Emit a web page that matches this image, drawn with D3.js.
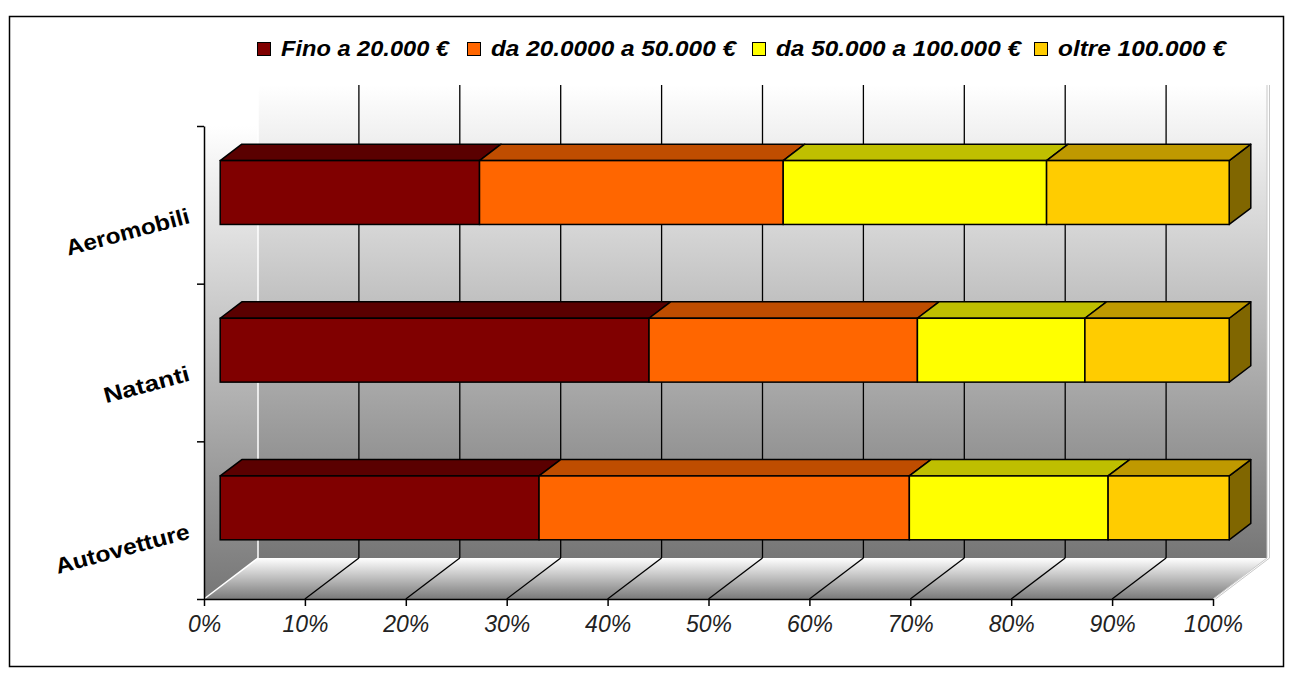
<!DOCTYPE html>
<html>
<head>
<meta charset="utf-8">
<script src="https://cdn.jsdelivr.net/npm/d3@7"></script>
<style>
  body { margin: 0; background: #fff; }
  svg { font-family: "Liberation Sans", Arial, sans-serif; }
</style>
</head>
<body>
<svg id="chart" width="1293" height="682"></svg>
<script>
// categorie dall'alto in basso
const categories = ['Aeromobili', 'Natanti', 'Autovetture']
const seriesNames = ['Fino a 20.000 €', 'da 20.0000 a 50.000 €', 'da 50.000 a 100.000 €', 'oltre 100.000 €']
const seriesColors = ['#800000', '#ff6600', '#ffff00', '#ffcc00']
// percentuali per categoria, una serie per array
const fino20 = [25.7, 42.5, 31.6]
const da20a50 = [30.1, 26.6, 36.7]
const da50a100 = [26.1, 16.6, 19.7]
const oltre100 = [18.1, 14.3, 12.0]
const tickValues = [0, 10, 20, 30, 40, 50, 60, 70, 80, 90, 100]

const series = [fino20, da20a50, da50a100, oltre100]

const svg = d3.select('#chart')

// piano frontale e profondità 3D
const plot = { left: 204, right: 1213, top: 126, bottom: 599 }
const depth = { dx: 54, dy: -41 }
const barZ0 = 0.3, barZ1 = 0.7
const barFrac = 0.405

const x = d3.scaleLinear().domain([0, 100]).range([plot.left, plot.right])
const y = d3.scaleBand().domain(categories).range([plot.top, plot.bottom]).padding(0)
const yTicks = d3.scaleLinear().domain([0, categories.length]).range([plot.bottom, plot.top])

// bordo esterno
svg.append('rect')
  .attr('x', 9.5).attr('y', 16.5).attr('width', 1274).attr('height', 650)
  .attr('fill', '#fff').attr('stroke', '#000').attr('stroke-width', 1.5)

const defs = svg.append('defs')
const wallGrad = defs.append('linearGradient').attr('id', 'wallGrad')
  .attr('gradientUnits', 'userSpaceOnUse')
  .attr('x1', 0).attr('y1', plot.top + depth.dy).attr('x2', 0).attr('y2', plot.bottom + depth.dy)
wallGrad.append('stop').attr('offset', '0%').attr('stop-color', '#ffffff')
wallGrad.append('stop').attr('offset', '100%').attr('stop-color', '#767676')

const sideGrad = defs.append('linearGradient').attr('id', 'sideGrad')
  .attr('gradientUnits', 'userSpaceOnUse')
  .attr('x1', 0).attr('y1', plot.top).attr('x2', 0).attr('y2', plot.bottom)
sideGrad.append('stop').attr('offset', '0%').attr('stop-color', '#ffffff')
sideGrad.append('stop').attr('offset', '100%').attr('stop-color', '#767676')

const floorGrad = defs.append('linearGradient').attr('id', 'floorGrad')
  .attr('gradientUnits', 'userSpaceOnUse')
  .attr('x1', 0).attr('y1', plot.bottom + depth.dy).attr('x2', 0).attr('y2', plot.bottom)
floorGrad.append('stop').attr('offset', '0%').attr('stop-color', '#ffffff')
floorGrad.append('stop').attr('offset', '100%').attr('stop-color', '#7a7a7a')

const pts = a => a.map(p => p.join(',')).join(' ')

// parete di fondo
svg.append('polygon')
  .attr('points', pts([
    [plot.left + depth.dx, plot.top + depth.dy], [plot.right + depth.dx, plot.top + depth.dy],
    [plot.right + depth.dx, plot.bottom + depth.dy], [plot.left + depth.dx, plot.bottom + depth.dy]]))
  .attr('fill', 'url(#wallGrad)')

// parete laterale
svg.append('polygon')
  .attr('points', pts([
    [plot.left, plot.top], [plot.left + depth.dx, plot.top + depth.dy],
    [plot.left + depth.dx, plot.bottom + depth.dy], [plot.left, plot.bottom]]))
  .attr('fill', 'url(#sideGrad)')

// pavimento
svg.append('polygon')
  .attr('points', pts([
    [plot.left, plot.bottom], [plot.left + depth.dx, plot.bottom + depth.dy],
    [plot.right + depth.dx, plot.bottom + depth.dy], [plot.right, plot.bottom]]))
  .attr('fill', 'url(#floorGrad)')

// spigoli chiari
svg.append('line')
  .attr('x1', plot.left + depth.dx).attr('y1', plot.top + depth.dy)
  .attr('x2', plot.left + depth.dx).attr('y2', plot.bottom + depth.dy)
  .attr('stroke', '#ffffff').attr('stroke-width', 1.5)
svg.append('line')
  .attr('x1', plot.left).attr('y1', plot.bottom)
  .attr('x2', plot.left + depth.dx).attr('y2', plot.bottom + depth.dy)
  .attr('stroke', '#ffffff').attr('stroke-width', 1.5)
;[0, 2.5].forEach(o => {
  svg.append('line')
    .attr('x1', plot.right + depth.dx + o).attr('y1', plot.top + depth.dy)
    .attr('x2', plot.right + depth.dx + o).attr('y2', plot.bottom + depth.dy)
    .attr('stroke', '#c8c8c8').attr('stroke-width', 1)
  svg.append('line')
    .attr('x1', plot.right + o).attr('y1', plot.bottom)
    .attr('x2', plot.right + depth.dx + o).attr('y2', plot.bottom + depth.dy)
    .attr('stroke', '#c8c8c8').attr('stroke-width', 1)
})

// griglia
const inner = tickValues.filter(v => v > 0 && v < 100)
svg.selectAll('.gridBack').data(inner).join('line').attr('class', 'gridBack')
  .attr('x1', d => x(d) + depth.dx).attr('x2', d => x(d) + depth.dx)
  .attr('y1', plot.top + depth.dy).attr('y2', plot.bottom + depth.dy)
  .attr('stroke', '#000').attr('stroke-width', 1.3)
svg.selectAll('.gridFloor').data(inner).join('line').attr('class', 'gridFloor')
  .attr('x1', d => x(d)).attr('y1', plot.bottom)
  .attr('x2', d => x(d) + depth.dx).attr('y2', plot.bottom + depth.dy)
  .attr('stroke', '#000').attr('stroke-width', 1.3)

// barre 3D
const bx = barZ0 * depth.dx, by = barZ0 * depth.dy
const bdx = (barZ1 - barZ0) * depth.dx, bdy = (barZ1 - barZ0) * depth.dy
const shade = (c, k) => { const r = d3.rgb(c); return d3.rgb(r.r * k, r.g * k, r.b * k).formatHex() }

const barsG = svg.append('g')
categories.forEach((cat, ci) => {
  const cy = y(cat) + y.bandwidth() / 2 + by
  const h = y.bandwidth() * barFrac
  const yt = cy - h / 2, yb = cy + h / 2
  let acc = 0
  series.forEach((s, si) => {
    const x0 = x(acc) + bx
    acc += s[ci]
    const x1 = x(acc) + bx
    const col = seriesColors[si]
    const g = barsG.append('g')
    if (si === series.length - 1) {
      g.append('polygon')
        .attr('points', pts([[x1, yt], [x1 + bdx, yt + bdy], [x1 + bdx, yb + bdy], [x1, yb]]))
        .attr('fill', shade(col, 0.5)).attr('stroke', '#000').attr('stroke-width', 1.5)
        .attr('stroke-linejoin', 'round')
    }
    g.append('polygon')
      .attr('points', pts([[x0, yt], [x0 + bdx, yt + bdy], [x1 + bdx, yt + bdy], [x1, yt]]))
      .attr('fill', shade(col, si === 0 ? 0.7 : 0.75)).attr('stroke', '#000').attr('stroke-width', 1.5)
      .attr('stroke-linejoin', 'round')
    g.append('rect')
      .attr('x', x0).attr('y', yt).attr('width', x1 - x0).attr('height', h)
      .attr('fill', col).attr('stroke', '#000').attr('stroke-width', 1.5)
  })
})

// assi
const xAxis = d3.axisBottom(x).tickValues(tickValues).tickFormat(d => d + '%').tickSize(7).tickSizeOuter(0)
const gx = svg.append('g').attr('transform', `translate(0,${plot.bottom})`).call(xAxis)
gx.select('.domain').attr('stroke-width', 1.5)
gx.selectAll('.tick line').attr('stroke-width', 1.5)
gx.selectAll('.tick text')
  .attr('y', 17)
  .style('font-size', '23px').style('font-style', 'italic').attr('fill', '#222')

const yAxis = d3.axisLeft(yTicks).tickValues(d3.range(categories.length + 1)).tickFormat('').tickSize(7).tickSizeOuter(0)
const gy = svg.append('g').attr('transform', `translate(${plot.left},0)`).call(yAxis)
gy.select('.domain').attr('stroke-width', 1.5)
gy.selectAll('.tick line').attr('stroke-width', 1.5)

// etichette categorie ruotate (larghezza come nel font originale)
const catWidth = { Aeromobili: 127, Natanti: 88, Autovetture: 138 }
svg.selectAll('.catLabel').data(categories).join('text').attr('class', 'catLabel')
  .attr('transform', d => `translate(191,${y(d) + y.bandwidth() / 2 + 18}) rotate(-15)`)
  .attr('text-anchor', 'end')
  .attr('textLength', d => catWidth[d]).attr('lengthAdjust', 'spacingAndGlyphs')
  .style('font-size', '22px').style('font-weight', 'bold')
  .text(d => d)

// legenda
const legendX = [257, 467, 752, 1034]
const legendW = [168, 245, 245, 168]
const legend = svg.append('g')
seriesNames.forEach((name, i) => {
  legend.append('rect')
    .attr('x', legendX[i] + 0.5).attr('y', 42.5).attr('width', 13).attr('height', 13)
    .attr('fill', seriesColors[i]).attr('stroke', '#000').attr('stroke-width', 1)
  legend.append('text')
    .attr('x', legendX[i] + 24).attr('y', 56)
    .attr('textLength', legendW[i]).attr('lengthAdjust', 'spacingAndGlyphs')
    .style('font-size', '22px').style('font-weight', 'bold').style('font-style', 'italic')
    .text(name)
})
</script>
</body>
</html>
